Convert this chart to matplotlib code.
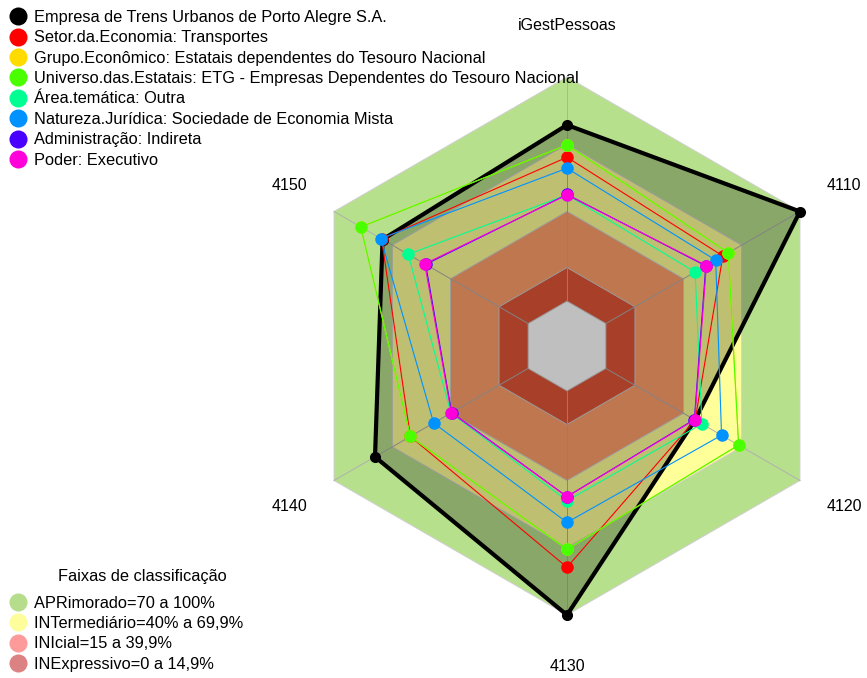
import numpy as np
import matplotlib.pyplot as plt
from matplotlib.lines import Line2D
from matplotlib.patches import Polygon

plt.rcParams['font.family'] = ['Liberation Sans', 'DejaVu Sans']

# eixos do radar (sentido horario a partir do topo)
eixos = ["iGestPessoas", "4110", "4120", "4130", "4140", "4150"]

empresa = [78.6, 100, 46, 100, 78.9, 75]
setor = [64.2, 60.3, 46, 78.7, 60.7, 75.5]
grupo = [69.7, 63.1, 68.4, 70.7, 60.7, 86.2]
universo = [69.7, 63.1, 68.4, 70.7, 60.7, 86.2]
area = [47.4, 46.0, 49.5, 49.0, 39.8, 61.8]
natureza = [59.3, 56.6, 59.6, 58.7, 48.7, 75.9]
administracao = [47.6, 51.5, 45.6, 47.2, 39.4, 52.8]
poder = [47.4, 51.8, 45.8, 47.2, 39.6, 53.3]

series = [empresa, setor, grupo, universo, area, natureza, administracao, poder]
nomes = ["Empresa de Trens Urbanos de Porto Alegre S.A.",
         "Setor.da.Economia: Transportes",
         "Grupo.Econômico: Estatais dependentes do Tesouro Nacional",
         "Universo.das.Estatais: ETG - Empresas Dependentes do Tesouro Nacional",
         "Área.temática: Outra",
         "Natureza.Jurídica: Sociedade de Economia Mista",
         "Administração: Indireta",
         "Poder: Executivo"]
cores = ["black", "#FF0000", "#FFDB00", "#49FF00", "#00FF92", "#0092FF", "#4900FF", "#FF00DB"]

faixas_lim = [100, 70, 40, 15]
faixas_nome = ["APRimorado=70 a 100%", "INTermediário=40% a 69,9%",
               "INIcial=15 a 39,9%", "INExpressivo=0 a 14,9%"]
faixas_fill = ["#b7e08c", "#ffff99", "#ffa06b", "#e05538"]
faixas_leg = ["#b5dd8b", "#fdfd9c", "#fd9a9a", "#dc8282"]

# layout (pixels)
W, H = 867, 678
cx, cy, R = 567, 346, 269
angulos = np.deg2rad([90, 30, -30, -90, -150, 150])


def raio(v):
    return R * (1 + 5 * np.asarray(v, dtype=float) / 100) / 6


def xy(v):
    r = raio(v)
    return cx + r * np.cos(angulos), cy - r * np.sin(angulos)


fig = plt.figure(figsize=(W / 100, H / 100), dpi=100)
ax = fig.add_axes([0, 0, 1, 1])
ax.set_xlim(0, W)
ax.set_ylim(H, 0)
ax.axis("off")

# faixas de fundo
for lim, cor in zip(faixas_lim, faixas_fill):
    x, y = xy([lim] * 6)
    ax.add_patch(Polygon(np.column_stack([x, y]), closed=True, fc=cor, ec="none", zorder=1))
x0, y0 = xy([0] * 6)
ax.add_patch(Polygon(np.column_stack([x0, y0]), closed=True, fc="white", ec="none", zorder=1))

# grade
for lim in [0, 15, 40, 70, 100]:
    x, y = xy([lim] * 6)
    ax.plot(np.append(x, x[0]), np.append(y, y[0]), color="#cfcfcf", lw=0.7, zorder=2)
xa, ya = xy([0] * 6)
xb, yb = xy([100] * 6)
for i in range(6):
    ax.plot([xa[i], xb[i]], [ya[i], yb[i]], color="#b0b0b0", lw=0.7, zorder=2)

# preenchimento da empresa
x, y = xy(empresa)
ax.add_patch(Polygon(np.column_stack([x, y]), closed=True, fc="black", alpha=0.25, ec="none", zorder=3))

for k, (vals, cor) in enumerate(zip(series, cores)):
    x, y = xy(vals)
    lw = 3.0 if k == 0 else 0.8
    ms = 8 if k == 0 else 9
    ax.plot(np.append(x, x[0]), np.append(y, y[0]), color=cor, lw=lw, zorder=4 + k)
    ax.plot(x, y, "o", color=cor, ms=ms, mec="none", zorder=4 + k)

# rotulos dos eixos
rl = 1.19 * R
for nome, a in zip(eixos, angulos):
    ax.text(cx + rl * np.cos(a), cy - rl * np.sin(a), nome, ha="center", va="center", fontsize=11.5)

h1 = [Line2D([], [], ls="none", marker="o", ms=13, color=c, mec="none") for c in cores]
leg1 = ax.legend(h1, nomes, loc="upper left", bbox_to_anchor=(0.0, 1.0), frameon=False,
                 fontsize=11.8, handlelength=1.0, handletextpad=0.45, labelspacing=0.33,
                 borderaxespad=0.3, borderpad=0.3)
ax.add_artist(leg1)

h2 = [Line2D([], [], ls="none", marker="o", ms=13, color=c, mec="none") for c in faixas_leg]
ax.legend(h2, faixas_nome, loc="lower left", bbox_to_anchor=(0.0, -0.0055), frameon=False,
          fontsize=11.8, handlelength=1.0, handletextpad=0.45, labelspacing=0.33,
          borderaxespad=0.3, borderpad=0.3)
ax.text(142, 576, "Faixas de classificação", ha="center", va="center", fontsize=11.8)

fig.savefig("out.png", dpi=100)
